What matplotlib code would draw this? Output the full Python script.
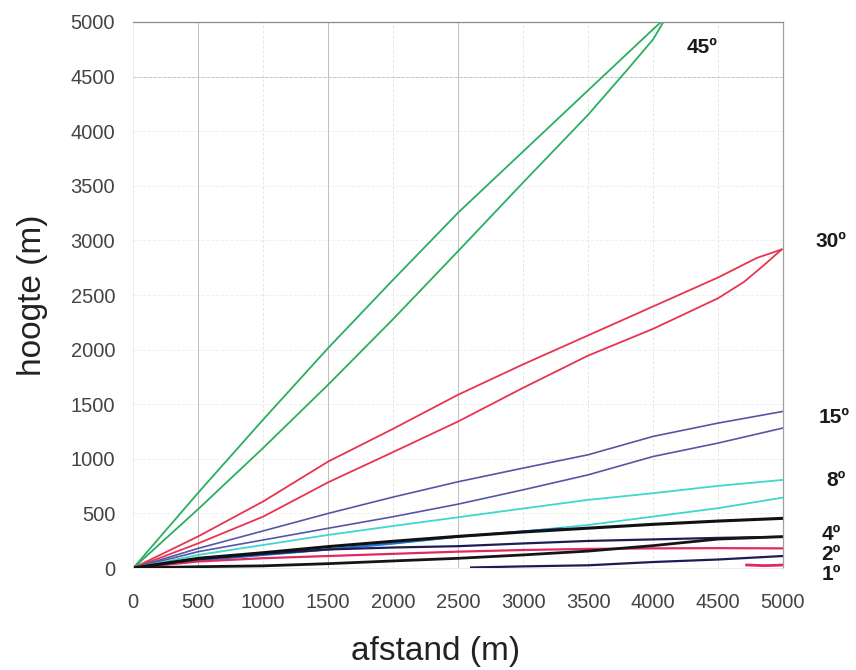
import matplotlib
matplotlib.use("Agg")
import matplotlib.pyplot as plt

plt.rcParams['font.family'] = ['Liberation Sans', 'DejaVu Sans']

# afstand (m) / hoogte (m) for each beam edge
x45_hi = [0, 500, 1000, 1500, 2000, 2500, 3000, 3500, 4000, 4062]
y45_hi = [0, 690, 1360, 2015, 2640, 3254, 3814, 4374, 4933, 5000]
x45_lo = [0, 500, 1000, 1500, 2000, 2500, 3000, 3500, 3800, 4000, 4080]
y45_lo = [0, 540, 1100, 1679, 2280, 2902, 3530, 4150, 4560, 4840, 5000]

x30_hi = [0, 500, 1000, 1500, 2000, 2500, 3000, 3500, 4000, 4500, 4800, 4990]
y30_hi = [0, 290, 610, 975, 1275, 1587, 1865, 2130, 2395, 2660, 2840, 2917]
x30_lo = [0, 500, 1000, 1500, 2000, 2500, 3000, 3500, 4000, 4500, 4700, 4850, 4990]
y30_lo = [0, 226, 471, 785, 1062, 1342, 1650, 1945, 2190, 2470, 2620, 2770, 2917]

x_std = [0, 500, 1000, 1500, 2000, 2500, 3000, 3500, 4000, 4500, 5000]
y15_hi = [0, 180, 340, 500, 650, 790, 915, 1037, 1205, 1327, 1434]
y15_lo = [0, 150, 257, 364, 470, 585, 716, 853, 1021, 1144, 1282]

y8_hi = [0, 120, 211, 303, 385, 465, 545, 624, 685, 752, 807]
y8_lo = [0, 70, 120, 170, 225, 287, 335, 394, 471, 548, 645]
x8_blue = [0, 500, 1000, 1500, 2000, 2500, 3000, 3300]
y8_blue = [0, 70, 120, 170, 225, 287, 335, 362]

y4_hi = [0, 89, 140, 196, 245, 290, 330, 365, 400, 430, 455]
y4_lo = [0, 12, 20, 40, 65, 89, 120, 155, 205, 265, 287]

y2_hi = [0, 80, 130, 170, 188, 200, 225, 248, 262, 276, 287]
y2_lo = [0, 60, 90, 110, 130, 150, 165, 175, 180, 182, 180]

x1_hi = [2600, 3000, 3500, 4000, 4500, 5000]
y1_hi = [5, 15, 25, 55, 78, 110]
x1_lo = [4720, 4850, 4950, 5000]
y1_lo = [28, 22, 25, 28]

angle_labels = ['45º', '30º', '15º', '8º', '4º', '2º', '1º']
label_x = [4380, 5370, 5390, 5405, 5370, 5370, 5370]
label_y = [4770, 2990, 1376, 800, 305, 120, -62]

fig = plt.figure(figsize=(8.56, 6.70), dpi=100)
ax = fig.add_axes([0.1557, 0.1522, 0.7590, 0.8150])

ax.set_xlim(0, 5000)
ax.set_ylim(0, 5000)
ticks = list(range(0, 5001, 500))
ax.set_xticks(ticks)
ax.set_yticks(ticks)

# grid: light lines, three darker verticals
for t in ticks[1:-1]:
    ax.axvline(t, color='#e6e6e6', lw=0.7, ls=(0, (3, 2)), zorder=0)
    ax.axhline(t, color='#eeeeee', lw=0.7, ls=(0, (3, 2)), zorder=0)
for t in [500, 1500, 2500]:
    ax.axvline(t, color='#c9bbbf', lw=0.7, zorder=0)
ax.axhline(4500, color='#c8c8c8', lw=0.7, ls=(0, (4, 1)), zorder=0)

for side in ['left', 'bottom']:
    ax.spines[side].set_color('#e6e6e6')
    ax.spines[side].set_linewidth(0.6)
ax.spines['top'].set_color('#8a8a8a')
ax.spines['right'].set_color('#a0a0a0')
ax.spines['top'].set_linewidth(0.9)
ax.spines['right'].set_linewidth(0.9)

ax.tick_params(length=0, labelsize=14.5, labelcolor='#444444')
ax.tick_params(axis='x', pad=18)
ax.tick_params(axis='y', pad=13)

green = '#2aae62'
red = '#e8344e'
slate = '#5656a6'
cyan = '#3fd6cf'
blue = '#2172d6'
navy = '#1d1d55'
crimson = '#e02a5e'

ax.plot(x45_hi, y45_hi, color=green, lw=1.3)
ax.plot(x45_lo, y45_lo, color=green, lw=1.3)
ax.plot(x30_hi, y30_hi, color=red, lw=1.3)
ax.plot(x30_lo, y30_lo, color=red, lw=1.3)
ax.plot(x_std, y15_hi, color=slate, lw=1.2)
ax.plot(x_std, y15_lo, color=slate, lw=1.2)
ax.plot(x_std, y8_hi, color=cyan, lw=1.3)
ax.plot(x_std, y8_lo, color=cyan, lw=1.3)
ax.plot(x8_blue, y8_blue, color=blue, lw=1.6)
ax.plot(x_std, y2_lo, color=crimson, lw=1.6)
ax.plot(x_std, y2_hi, color=navy, lw=1.6)
ax.plot(x_std, y4_lo, color='#151515', lw=2.0)
ax.plot(x_std, y4_hi, color='#111111', lw=2.2)
ax.plot(x1_hi, y1_hi, color=navy, lw=1.6)
ax.plot(x1_lo, y1_lo, color=crimson, lw=2.0)

for txt, lx, ly in zip(angle_labels, label_x, label_y):
    ax.text(lx, ly, txt, ha='center', va='center', fontsize=15,
            fontweight='bold', color='#1a1a1a', clip_on=False)

ax.set_xlabel('afstand (m)', fontsize=24, color='#222222')
ax.xaxis.set_label_coords(0.466, -0.124)
ax.set_ylabel('hoogte (m)', fontsize=24, color='#222222', labelpad=16)

fig.savefig('out.png', dpi=100)
